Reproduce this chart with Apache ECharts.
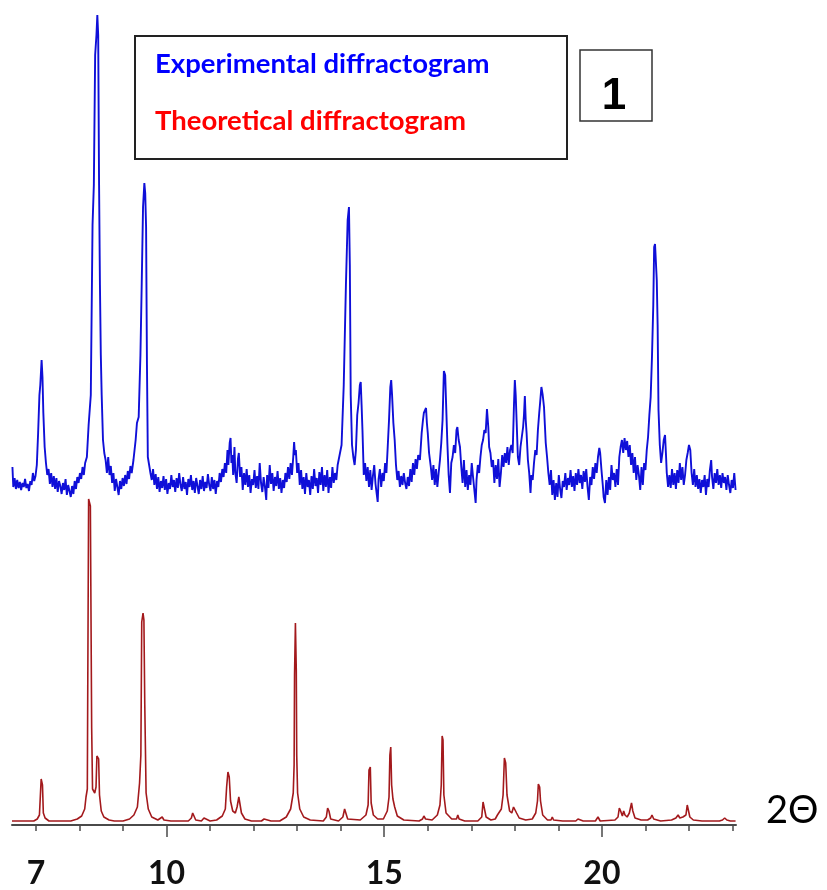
<!DOCTYPE html>
<html>
<head>
<meta charset="utf-8">
<title>Diffractograms</title>
<script src="https://cdn.jsdelivr.net/npm/echarts@6/dist/echarts.min.js"></script>
<style>
  html, body { margin: 0; padding: 0; background: #ffffff; }
  #chart { width: 827px; height: 890px; }
</style>
</head>
<body>
<div id="chart"></div>
<script>
// 2θ range of the scan (degrees)
const thetaMin = 6.45;
const thetaMax = 23.08;

// Axis ticks and labels (degrees 2θ)
const minorTicks = [7, 8, 9, 10, 11, 12, 13, 14, 15, 16, 17, 18, 19, 20, 21, 22, 23];
const majorTicks = [10, 15, 20];
const tickLabels = [7, 10, 15, 20];

// Series names
const expName = 'Experimental diffractogram';
const theoName = 'Theoretical diffractogram';

// Experimental pattern: [2θ, intensity] (stacked above the calculated one)
const experimental = [
  [6.46,358],[6.48,338],[6.51,347],[6.54,336],[6.57,345],[6.60,337],[6.63,343],[6.66,335],[6.69,342],[6.72,338],
  [6.75,346],[6.78,337],[6.81,341],[6.84,334],[6.87,344],[6.90,340],[6.93,352],[6.96,344],[6.99,349],
  [7.02,360],[7.05,392],[7.08,430],[7.10,440],[7.13,465],[7.15,448],[7.17,412],[7.20,378],[7.23,362],[7.26,350],
  [7.29,356],[7.32,341],[7.35,352],[7.38,338],[7.41,349],[7.44,336],[7.47,347],[7.50,333],[7.53,344],[7.56,339],
  [7.59,331],[7.62,342],[7.65,335],[7.68,346],[7.71,330],[7.74,340],[7.77,334],[7.80,328],[7.83,339],[7.86,331],
  [7.89,344],[7.92,336],[7.95,348],[7.98,342],[8.01,352],[8.04,346],[8.07,358],[8.10,350],[8.13,362],
  [8.17,368],[8.21,400],[8.26,430],[8.30,600],[8.33,640],[8.36,770],[8.39,790],[8.41,810],[8.43,790],[8.45,640],
  [8.47,540],[8.49,470],[8.51,430],[8.54,385],[8.57,372],[8.60,365],[8.63,352],
  [8.66,368],[8.69,350],[8.72,359],[8.75,342],[8.78,352],[8.81,334],[8.84,346],[8.87,338],[8.90,330],[8.93,344],
  [8.96,336],[8.99,347],[9.02,339],[9.05,350],[9.08,341],[9.11,354],[9.14,346],[9.17,359],[9.20,352],
  [9.24,365],[9.29,385],[9.32,402],[9.36,408],[9.40,470],[9.43,542],[9.46,618],[9.49,642],[9.51,632],[9.53,598],
  [9.55,460],[9.57,368],[9.60,360],[9.63,352],
  [9.66,345],[9.69,356],[9.72,340],[9.75,351],[9.78,336],[9.81,348],[9.84,333],[9.87,344],[9.90,337],[9.93,349],
  [9.96,335],[9.99,346],[10.02,331],[10.05,342],[10.08,336],[10.11,350],[10.14,338],[10.17,345],[10.20,333],[10.23,347],
  [10.26,337],[10.29,352],[10.32,340],[10.35,334],[10.38,348],[10.41,336],[10.44,343],[10.47,330],[10.50,346],[10.53,338],
  [10.56,350],[10.59,335],[10.62,344],[10.65,332],[10.68,347],[10.71,339],[10.74,331],[10.77,345],[10.80,336],[10.83,349],
  [10.86,334],[10.89,343],[10.92,337],[10.95,351],[10.98,340],[11.01,334],[11.04,348],[11.07,336],[11.10,345],[11.13,331],
  [11.16,344],[11.19,338],[11.22,352],[11.25,343],[11.28,356],[11.31,348],
  [11.34,362],[11.37,352],[11.40,375],[11.42,360],[11.45,382],[11.47,387],[11.49,362],[11.51,370],[11.53,350],[11.56,378],
  [11.58,352],[11.61,342],[11.64,366],[11.66,372],[11.69,348],[11.72,358],[11.75,335],[11.78,352],
  [11.81,340],[11.84,356],[11.87,338],[11.90,350],[11.93,332],[11.96,346],[11.99,340],[12.02,355],[12.05,337],[12.08,349],
  [12.11,336],[12.14,362],[12.17,342],[12.20,333],[12.23,348],[12.26,338],[12.29,325],[12.31,350],[12.34,337],[12.37,360],
  [12.40,341],[12.43,352],[12.46,334],[12.49,348],[12.52,339],[12.55,354],[12.58,336],[12.61,347],[12.64,332],[12.67,345],
  [12.70,337],[12.73,352],[12.76,343],[12.79,358],[12.82,346],[12.85,362],
  [12.88,350],[12.91,368],[12.93,383],[12.95,370],[12.97,375],[13.00,352],[13.03,362],[13.06,340],
  [13.09,355],[13.12,336],[13.15,348],[13.18,331],[13.21,352],[13.24,338],[13.27,345],[13.30,330],[13.33,349],[13.36,336],
  [13.39,356],[13.42,339],[13.45,347],[13.48,332],[13.51,353],[13.54,340],[13.57,358],[13.60,334],[13.63,350],[13.66,338],
  [13.69,355],[13.72,332],[13.75,348],[13.78,337],[13.81,358],[13.84,342],[13.87,352],[13.90,345],[13.93,360],
  [13.97,358],[14.02,380],[14.07,440],[14.12,540],[14.16,605],[14.19,618],[14.21,560],[14.23,430],[14.26,380],
  [14.29,368],[14.32,360],[14.35,375],[14.38,410],[14.41,422],[14.44,440],[14.46,443],[14.48,420],[14.50,395],
  [14.53,350],[14.56,362],
  [14.59,344],[14.62,358],[14.65,338],[14.68,355],[14.71,335],[14.74,349],[14.77,360],[14.80,341],[14.83,330],[14.85,323],
  [14.87,346],[14.90,356],[14.93,338],[14.96,352],[14.99,344],[15.02,362],[15.05,352],
  [15.08,378],[15.11,405],[15.14,438],[15.16,445],[15.18,430],[15.21,402],[15.24,385],[15.27,360],[15.30,345],
  [15.33,354],[15.36,338],[15.39,349],[15.42,340],[15.45,352],[15.48,342],[15.51,336],[15.54,348],[15.57,339],[15.60,356],
  [15.63,343],[15.66,362],[15.69,350],[15.72,366],[15.75,356],[15.78,370],
  [15.82,365],[15.86,392],[15.89,405],[15.91,412],[15.94,410],[15.96,417],[15.98,402],[16.00,392],[16.03,372],[16.07,358],
  [16.10,345],[16.13,360],[16.16,340],[16.19,356],[16.22,338],[16.25,352],[16.28,365],
  [16.31,382],[16.34,405],[16.37,454],[16.40,450],[16.42,448],[16.45,382],[16.48,350],[16.51,332],[16.54,362],[16.57,368],
  [16.60,380],[16.63,372],[16.66,395],[16.68,398],[16.71,385],[16.74,378],[16.77,358],[16.80,342],[16.83,365],[16.86,338],
  [16.89,355],[16.92,335],[16.95,350],[16.98,340],[17.01,362],[17.04,348],[17.07,335],[17.10,322],[17.12,345],[17.15,360],
  [17.18,352],[17.21,368],
  [17.24,380],[17.27,385],[17.30,395],[17.33,392],[17.36,416],[17.39,398],[17.41,378],[17.44,372],[17.47,358],[17.50,365],
  [17.53,342],[17.56,360],[17.59,346],[17.62,366],[17.65,338],[17.68,352],[17.71,370],[17.74,358],[17.77,372],[17.80,362],
  [17.83,378],[17.86,360],[17.89,375],
  [17.92,380],[17.95,372],[17.98,420],[18.00,445],[18.02,430],[18.04,405],[18.07,368],[18.10,360],[18.13,378],[18.16,388],
  [18.19,398],[18.21,410],[18.23,429],[18.25,405],[18.27,392],[18.30,365],[18.33,352],[18.36,332],[18.38,350],[18.41,345],
  [18.44,362],[18.47,375],[18.50,370],
  [18.53,395],[18.56,412],[18.58,422],[18.61,438],[18.64,430],[18.67,418],[18.69,400],[18.71,382],[18.74,368],[18.77,352],
  [18.80,340],
  [18.83,355],[18.86,330],[18.89,345],[18.92,325],[18.95,342],[18.98,328],[19.01,350],[19.04,336],[19.07,327],[19.10,344],
  [19.13,338],[19.16,352],[19.19,335],[19.22,347],[19.25,340],[19.28,355],[19.31,338],[19.34,349],[19.37,334],[19.40,352],
  [19.43,340],[19.46,356],[19.49,342],[19.52,350],[19.55,336],[19.58,354],[19.61,343],[19.64,356],[19.67,338],[19.70,325],
  [19.73,348],[19.76,340],[19.79,358],[19.82,346],[19.85,362],[19.88,352],
  [19.91,368],[19.94,377],[19.96,372],[19.99,355],[20.02,340],[20.04,328],[20.07,322],[20.10,345],[20.13,330],[20.16,348],
  [20.19,335],[20.22,360],[20.25,345],[20.28,352],[20.31,338],[20.34,356],[20.37,340],[20.40,368],
  [20.43,378],[20.46,385],[20.49,372],[20.52,387],[20.55,375],[20.58,384],[20.61,368],[20.64,380],[20.67,360],[20.70,372],
  [20.73,352],[20.76,368],[20.79,345],[20.82,360],[20.85,350],[20.88,335],[20.91,358],[20.94,340],[20.97,362],[21.00,355],
  [21.03,375],
  [21.06,388],[21.09,410],[21.12,428],[21.15,468],[21.18,520],[21.20,578],[21.22,581],[21.24,580],[21.26,545],[21.28,500],
  [21.30,415],[21.33,380],[21.36,362],[21.39,372],[21.42,385],[21.45,390],[21.47,372],[21.49,352],[21.52,338],
  [21.55,350],[21.58,337],[21.61,356],[21.64,340],[21.67,352],[21.70,336],[21.73,355],[21.76,342],[21.79,362],[21.82,345],
  [21.85,358],[21.88,340],[21.91,350],[21.94,365],[21.97,372],[22.00,380],[22.03,375],[22.06,352],[22.09,340],[22.12,356],
  [22.15,338],[22.18,350],[22.21,336],[22.24,346],[22.27,332],[22.30,345],[22.33,338],[22.36,350],[22.39,330],[22.42,346],
  [22.45,338],[22.48,355],[22.51,365],[22.53,348],[22.56,336],[22.59,352],[22.62,342],[22.65,356],[22.68,340],[22.71,350],
  [22.74,337],[22.77,352],[22.80,342],[22.83,348],[22.86,335],[22.89,350],[22.92,340],[22.95,332],[22.98,345],[23.01,337],
  [23.04,352],[23.07,335]
];

// Calculated pattern: [2θ, intensity]
const theoretical = [
  [6.45,4],[6.95,4],[7.03,6],[7.08,10],[7.10,28],[7.12,46],[7.15,40],[7.17,12],[7.21,7],[7.30,4],
  [7.80,4],[7.95,6],[8.05,9],[8.12,16],[8.15,28],[8.18,36],[8.19,136],[8.21,326],[8.23,326],[8.25,319],
  [8.28,97],[8.30,36],[8.35,32],[8.38,38],[8.40,69],[8.44,66],[8.46,30],[8.50,14],[8.56,8],[8.68,5],[8.80,4],
  [9.00,4],[9.15,6],[9.25,10],[9.33,18],[9.38,42],[9.41,70],[9.43,203],[9.46,212],[9.48,205],[9.50,120],
  [9.53,32],[9.58,16],[9.66,8],[9.80,5],[9.90,8],[9.94,5],[10.10,4],
  [10.50,4],[10.57,7],[10.60,12],[10.63,11],[10.67,5],[10.80,4],[10.86,7],[10.90,5],[11.00,4],
  [11.15,5],[11.28,9],[11.35,16],[11.38,38],[11.41,53],[11.44,48],[11.47,24],[11.52,14],[11.58,12],[11.62,18],
  [11.66,28],[11.69,26],[11.72,12],[11.80,6],[11.95,4],
  [12.18,4],[12.24,6],[12.28,5],[12.40,4],
  [12.60,4],[12.75,8],[12.85,16],[12.91,32],[12.93,60],[12.94,150],[12.96,202],[12.98,155],[12.99,70],[13.01,32],
  [13.06,16],[13.15,8],[13.30,5],
  [13.60,4],[13.67,8],[13.70,17],[13.73,14],[13.77,6],
  [13.95,4],[14.05,8],[14.09,16],[14.12,14],[14.16,6],
  [14.45,5],[14.58,10],[14.63,20],[14.65,55],[14.68,58],[14.70,22],[14.75,10],[14.85,6],
  [14.98,6],[15.07,14],[15.11,28],[15.13,70],[15.15,78],[15.17,40],[15.20,26],[15.24,18],[15.30,9],[15.45,5],
  [15.80,4],[15.88,6],[15.91,9],[15.95,6],
  [16.10,5],[16.22,10],[16.28,20],[16.31,40],[16.33,89],[16.35,85],[16.37,30],[16.42,12],[16.55,6],[16.66,6],
  [16.69,10],[16.72,6],[16.85,4],
  [17.15,4],[17.24,8],[17.27,23],[17.31,22],[17.34,8],[17.45,5],
  [17.55,6],[17.60,10],[17.64,9],[17.69,16],[17.73,30],[17.76,67],[17.79,62],[17.82,30],[17.88,14],[17.93,12],
  [17.97,18],[18.01,20],[18.04,12],[18.10,7],[18.25,5],
  [18.40,6],[18.48,12],[18.52,24],[18.54,41],[18.57,38],[18.59,24],[18.64,10],[18.75,5],[18.83,5],[18.86,8],
  [18.89,5],[19.10,4],
  [19.40,4],[19.45,6],[19.49,4],[19.57,4],[19.61,6],[19.65,4],
  [19.85,4],[19.91,8],[19.96,4],
  [20.30,5],[20.37,8],[20.40,17],[20.43,14],[20.47,9],[20.50,14],[20.53,10],[20.58,8],[20.63,12],[20.68,22],
  [20.71,14],[20.76,7],[20.90,5],
  [21.05,5],[21.12,7],[21.15,10],[21.19,6],[21.35,4],
  [21.60,5],[21.70,7],[21.75,10],[21.79,7],[21.86,8],[21.93,10],[21.96,20],[21.99,19],[22.02,8],[22.10,5],[22.30,4],
  [22.70,4],[22.77,5],[22.82,7],[22.87,5],[22.95,4],[23.07,4]
];

const chart = echarts.init(document.getElementById('chart'), null, { renderer: 'canvas' });

const axisColor = '#4a4a4a';

const option = {
  animation: false,
  backgroundColor: '#ffffff',
  grid: { left: 12, right: 91, top: 0, bottom: 65, containLabel: false },
  xAxis: [
    {
      type: 'value',
      position: 'bottom',
      min: thetaMin,
      max: thetaMax,
      axisLine: { show: true, lineStyle: { color: axisColor, width: 2 } },
      axisTick: { show: true, customValues: minorTicks, length: 6, lineStyle: { color: axisColor, width: 1.5 } },
      axisLabel: { show: false },
      splitLine: { show: false }
    },
    {
      type: 'value',
      position: 'bottom',
      min: thetaMin,
      max: thetaMax,
      axisLine: { show: false },
      axisTick: { show: true, customValues: majorTicks, length: 12, lineStyle: { color: axisColor, width: 1.5 } },
      axisLabel: {
        show: true,
        customValues: tickLabels,
        margin: 33,
        fontFamily: 'Lato',
        fontWeight: 'bold',
        fontSize: 32,
        color: '#111111'
      },
      splitLine: { show: false }
    }
  ],
  yAxis: { type: 'value', min: 0, max: 825, show: false },
  series: [
    {
      name: theoName,
      type: 'line',
      xAxisIndex: 0,
      data: theoretical,
      showSymbol: false,
      lineStyle: { color: '#a3191c', width: 1.6 },
      z: 2
    },
    {
      name: expName,
      type: 'line',
      xAxisIndex: 0,
      data: experimental,
      showSymbol: false,
      lineStyle: { color: '#0f0fd8', width: 1.9 },
      z: 3
    }
  ],
  graphic: [
    {
      type: 'rect',
      shape: { x: 135, y: 36, width: 432, height: 123 },
      style: { fill: '#ffffff', stroke: '#222222', lineWidth: 2 },
      z: 10
    },
    {
      type: 'text',
      x: 155, y: 64,
      style: { text: expName, fill: '#0000ff', font: 'bold 27.5px Lato', textVerticalAlign: 'middle' },
      z: 11
    },
    {
      type: 'text',
      x: 155, y: 121,
      style: { text: theoName, fill: '#ff0000', font: 'bold 27.5px Lato', textVerticalAlign: 'middle' },
      z: 11
    },
    {
      type: 'rect',
      shape: { x: 580, y: 50, width: 72, height: 71 },
      style: { fill: '#ffffff', stroke: '#333333', lineWidth: 1.5 },
      z: 10
    },
    {
      type: 'text',
      x: 614, y: 97,
      style: { text: '1', fill: '#000000', font: 'bold 44px "Liberation Sans"', textAlign: 'center', textVerticalAlign: 'middle' },
      z: 11
    },
    {
      type: 'text',
      x: 766, y: 811,
      style: { text: '2Θ', fill: '#000000', font: '38px Lato', textVerticalAlign: 'middle' },
      z: 11
    }
  ]
};

chart.setOption(option);
</script>
</body>
</html>
